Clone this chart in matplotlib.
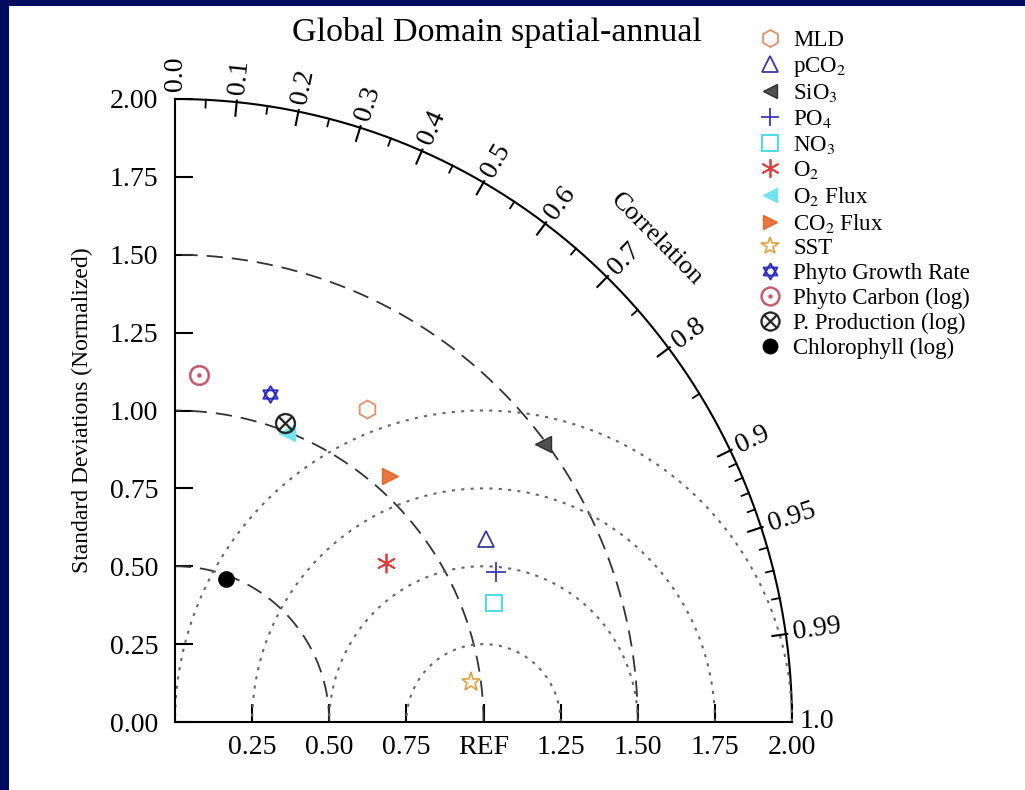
import numpy as np
import matplotlib
matplotlib.use("Agg")
import matplotlib.pyplot as plt
from matplotlib.path import Path

plt.rcParams['font.family'] = ['Liberation Serif', 'DejaVu Serif']
plt.rcParams['mathtext.fontset'] = 'stix'

# normalized standard deviation and correlation for each field
names = ['MLD', 'pCO$_2$', 'SiO$_3$', 'PO$_4$', 'NO$_3$', 'O$_2$', 'O$_2$ Flux',
         'CO$_2$ Flux', 'SST', 'Phyto Growth Rate', 'Phyto Carbon (log)',
         'P. Production (log)', 'Chlorophyll (log)']
stds = [1.182, 1.165, 1.491, 1.147, 1.104, 0.854, 0.997, 1.052, 0.967, 1.097, 1.117, 1.024, 0.488]
corrs = [0.527, 0.864, 0.801, 0.908, 0.938, 0.802, 0.365, 0.661, 0.991, 0.281, 0.070, 0.349, 0.340]

# star of david marker
hexagram = Path([(0, 1), (-0.866, -0.5), (0.866, -0.5), (0, 1),
                 (0, -1), (0.866, 0.5), (-0.866, 0.5), (0, -1)],
                [Path.MOVETO, Path.LINETO, Path.LINETO, Path.CLOSEPOLY,
                 Path.MOVETO, Path.LINETO, Path.LINETO, Path.CLOSEPOLY])

styles = [
    dict(marker='h', ms=13, mfc='none', mec='#e0906a', mew=1.3),
    dict(marker='^', ms=12, mfc='none', mec='#3a3a9a', mew=1.3),
    dict(marker='<', ms=11, mfc='#505050', mec='#303030', mew=1.0),
    dict(marker='+', ms=14, mec='#3a3ab8', mew=1.3),
    dict(marker='s', ms=12, mfc='none', mec='#50dce4', mew=1.5),
    dict(marker=(6, 2, 0), ms=14, mec='#e04040', mew=1.3),
    dict(marker='<', ms=11, mfc='#70e4ec', mec='#70e4ec', mew=1.0),
    dict(marker='>', ms=11, mfc='#e8743e', mec='#e06a30', mew=1.0),
    dict(marker='*', ms=14, mfc='none', mec='#e0a040', mew=1.2),
    dict(marker=hexagram, ms=12, mfc='none', mec='#3030c0', mew=1.4),
    dict(marker=r'$\odot$', ms=15, mfc='#c05868', mec='#c05868', mew=0.3),
    dict(marker=r'$\otimes$', ms=15, mfc='#202020', mec='#202020', mew=0.3),
    dict(marker='o', ms=11, mfc='black', mec='black'),
]

fig = plt.figure(figsize=(10.25, 7.9), dpi=100)
fig.patch.set_facecolor('#000c5e')
fig.add_artist(plt.Rectangle((9 / 1025, 0), 1, 1 - 6 / 790, transform=fig.transFigure,
                             facecolor='white', edgecolor='none', zorder=-10))

ax = fig.add_axes([175 / 1025, 68 / 790, 617 / 1025, 623 / 790])
ax.patch.set_visible(False)
ax.set_xlim(0, 2)
ax.set_ylim(0, 2)
for s in ['top', 'right']:
    ax.spines[s].set_visible(False)
for s in ['left', 'bottom']:
    ax.spines[s].set_linewidth(1.5)

ticks = np.arange(0, 2.01, 0.25)
ax.set_yticks(ticks)
ax.set_yticklabels(['%.2f' % t for t in ticks])
ax.set_xticks(ticks[1:])
ax.set_xticklabels(['0.25', '0.50', '0.75', 'REF', '1.25', '1.50', '1.75', '2.00'])
ax.tick_params(direction='in', length=13, width=1.5, labelsize=20)
ax.tick_params(axis='y', pad=12)
ax.tick_params(axis='x', pad=9)
ax.set_ylabel('Standard Deviations (Normalized)', fontsize=17, labelpad=12)

th = np.linspace(0, np.pi / 2, 400)
# outer arc
ax.plot(2 * np.cos(th), 2 * np.sin(th), color='black', lw=1.5, clip_on=False)
# std dev contours
for r in [0.5, 1.0, 1.5]:
    ax.plot(r * np.cos(th), r * np.sin(th), color='#333333', lw=1.3,
            ls=(0, (9, 5)), clip_on=False)
# RMS contours around REF
ph = np.linspace(0, np.pi, 600)
for r in [0.25, 0.5, 0.75, 1.0]:
    x = 1 + r * np.cos(ph)
    y = r * np.sin(ph)
    ax.plot(x, y, color='#666666', lw=1.5, ls=(0, (1.5, 3)), clip_on=False)

# correlation ticks and labels
major = [0.1, 0.2, 0.3, 0.4, 0.5, 0.6, 0.7, 0.8, 0.9, 0.95, 0.99]
minor = [0.05, 0.15, 0.25, 0.35, 0.45, 0.55, 0.65, 0.75, 0.85,
         0.91, 0.92, 0.93, 0.94, 0.96, 0.97, 0.98]
for c in major:
    a = np.arccos(c)
    ax.plot([1.956 * np.cos(a), 2.005 * np.cos(a)], [1.956 * np.sin(a), 2.005 * np.sin(a)],
            color='black', lw=1.5, clip_on=False)
for c in minor:
    a = np.arccos(c)
    ax.plot([1.975 * np.cos(a), 2.0 * np.cos(a)], [1.975 * np.sin(a), 2.0 * np.sin(a)],
            color='black', lw=1.3, clip_on=False)
for c, lab in zip([0.0] + major + [1.0],
                  ['0.0', '0.1', '0.2', '0.3', '0.4', '0.5', '0.6', '0.7', '0.8', '0.9',
                   '0.95', '0.99', '1.0']):
    a = np.arccos(c)
    ax.text(2.025 * np.cos(a), 2.025 * np.sin(a), lab, rotation=np.degrees(a),
            rotation_mode='anchor', ha='left', va='center', fontsize=20)
ca = np.radians(44.8)
ax.text(2.2 * np.cos(ca), 2.2 * np.sin(ca), 'Correlation', rotation=-45.2,
        ha='center', va='center', fontsize=19, rotation_mode='anchor')

handles = []
for s, c, name, st in zip(stds, corrs, names, styles):
    h, = ax.plot(s * c, s * np.sqrt(1 - c ** 2), ls='none', label=name,
                 clip_on=False, zorder=5, **st)
    handles.append(h)

fig.legend(handles=handles, loc='upper left', bbox_to_anchor=(759 / 1025, 1 - 30 / 790),
           frameon=False, fontsize=16.5, handlelength=1.0, handletextpad=0.5,
           labelspacing=0.16, borderaxespad=0, borderpad=0, markerscale=0.95)

fig.text(497 / 1025, 1 - 32 / 790, 'Global Domain spatial-annual', ha='center',
         va='center', fontsize=24.5)

fig.savefig('out.png', dpi=100, facecolor=fig.get_facecolor())
